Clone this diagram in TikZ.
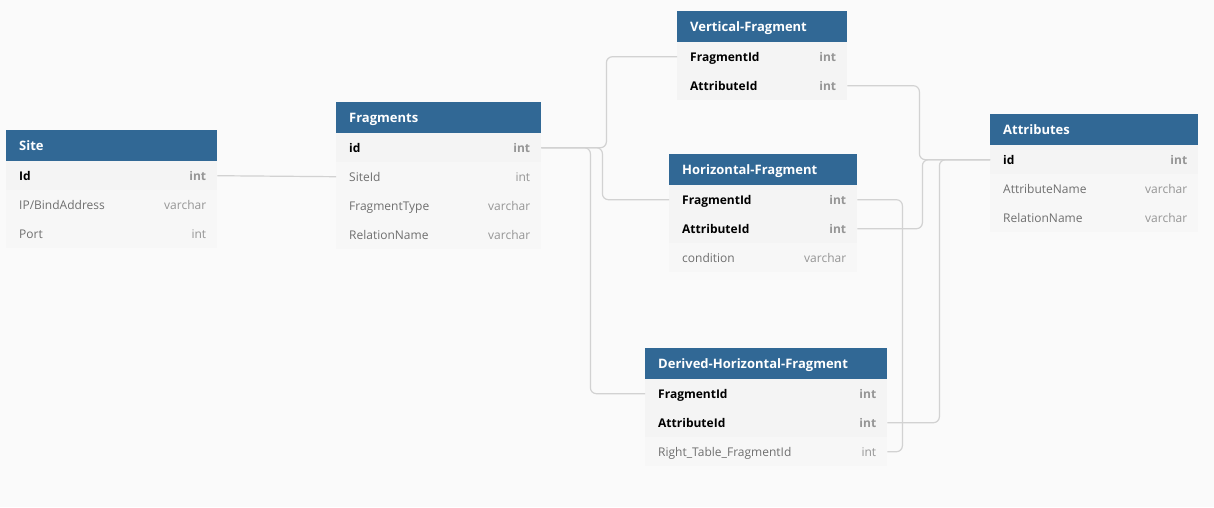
\documentclass[tikz,border=0pt]{standalone}
\usepackage{fontspec}
\setmainfont{Open Sans}
\definecolor{bggray}{HTML}{FAFAFA}
\definecolor{hdblue}{HTML}{316895}
\definecolor{keyfill}{HTML}{F4F4F4}
\definecolor{rowfill}{HTML}{F7F7F7}
\definecolor{namegray}{HTML}{6F6F6F}
\definecolor{typegray}{HTML}{959595}
\definecolor{linegray}{HTML}{D2D2D2}
\begin{document}
\begin{tikzpicture}[x=1pt, y=-1pt,
    tblhead/.style={anchor=north west, fill=hdblue, minimum height=31, inner sep=0},
    keyrow/.style={anchor=north west, fill=keyfill, minimum height=29, inner sep=0},
    plainrow/.style={anchor=north west, fill=rowfill, minimum height=29, inner sep=0},
    hname/.style={anchor=west, xshift=13, yshift=-2, inner sep=0, text height=9.5, text depth=3, text=white, font=\fontsize{13}{15}\selectfont\bfseries},
    kname/.style={anchor=west, xshift=13, yshift=-2, inner sep=0, text height=8.5, text depth=3, text=black, font=\fontsize{12}{14}\selectfont\bfseries},
    pname/.style={anchor=west, xshift=13, yshift=-2, inner sep=0, text height=8.5, text depth=3, text=namegray, font=\fontsize{12}{14}\selectfont},
    ktype/.style={anchor=east, xshift=-11, yshift=-2, inner sep=0, text height=8.5, text depth=3, text=typegray, font=\fontsize{12}{14}\selectfont\bfseries},
    ptype/.style={anchor=east, xshift=-11, yshift=-2, inner sep=0, text height=8.5, text depth=3, text=typegray, font=\fontsize{12}{14}\selectfont},
    conn/.style={draw=linegray, line width=1.2, rounded corners=6}]
    \fill[bggray] (0,0) rectangle (1214,507);
    \useasboundingbox (0,0) rectangle (1214,507);
    % Site
    \node[tblhead, minimum width=211, label={[hname]west:Site}] (site) at (6,130) {};
    \node[keyrow, minimum width=211, label={[kname]west:Id}, label={[ktype]east:int}] (site-id) at (6,161) {};
    \node[plainrow, minimum width=211, label={[pname]west:IP/BindAddress}, label={[ptype]east:varchar}] (site-ip) at (6,190) {};
    \node[plainrow, minimum width=211, label={[pname]west:Port}, label={[ptype]east:int}] (site-port) at (6,219) {};
    % Fragments
    \node[tblhead, minimum width=205, label={[hname]west:Fragments}] (frag) at (336,102) {};
    \node[keyrow, minimum width=205, label={[kname]west:id}, label={[ktype]east:int}] (frag-id) at (336,133) {};
    \node[plainrow, minimum width=205, label={[pname]west:SiteId}, label={[ptype]east:int}] (frag-siteid) at (336,162) {};
    \node[plainrow, minimum width=205, label={[pname]west:FragmentType}, label={[ptype]east:varchar}] (frag-type) at (336,191) {};
    \node[plainrow, minimum width=205, label={[pname]west:RelationName}, label={[ptype]east:varchar}] (frag-rel) at (336,220) {};
    % Vertical-Fragment
    \node[tblhead, minimum width=170, label={[hname]west:Vertical-Fragment}] (vert) at (677,11) {};
    \node[keyrow, minimum width=170, label={[kname]west:FragmentId}, label={[ktype]east:int}] (vert-fid) at (677,42) {};
    \node[keyrow, minimum width=170, label={[kname]west:AttributeId}, label={[ktype]east:int}] (vert-aid) at (677,71) {};
    % Horizontal-Fragment
    \node[tblhead, minimum width=188, label={[hname]west:Horizontal-Fragment}] (horz) at (669,154) {};
    \node[keyrow, minimum width=188, label={[kname]west:FragmentId}, label={[ktype]east:int}] (horz-fid) at (669,185) {};
    \node[keyrow, minimum width=188, label={[kname]west:AttributeId}, label={[ktype]east:int}] (horz-aid) at (669,214) {};
    \node[plainrow, minimum width=188, label={[pname]west:condition}, label={[ptype]east:varchar}] (horz-cond) at (669,243) {};
    % Derived-Horizontal-Fragment
    \node[tblhead, minimum width=242, label={[hname]west:Derived-Horizontal-Fragment}] (derv) at (645,348) {};
    \node[keyrow, minimum width=242, label={[kname]west:FragmentId}, label={[ktype]east:int}] (derv-fid) at (645,379) {};
    \node[keyrow, minimum width=242, label={[kname]west:AttributeId}, label={[ktype]east:int}] (derv-aid) at (645,408) {};
    \node[plainrow, minimum width=242, label={[pname]west:Right\_Table\_FragmentId}, label={[ptype]east:int}] (derv-rtf) at (645,437) {};
    % Attributes
    \node[tblhead, minimum width=208, label={[hname]west:Attributes}] (attr) at (990,114) {};
    \node[keyrow, minimum width=208, label={[kname]west:id}, label={[ktype]east:int}] (attr-id) at (990,145) {};
    \node[plainrow, minimum width=208, label={[pname]west:AttributeName}, label={[ptype]east:varchar}] (attr-name) at (990,174) {};
    \node[plainrow, minimum width=208, label={[pname]west:RelationName}, label={[ptype]east:varchar}] (attr-rel) at (990,203) {};
    % relations
    \draw[conn] (site-id.east) -- (frag-siteid.west);
    \draw[conn] (frag-id.east) -- ++(65,0) |- (vert-fid.west);
    \draw[conn] (frag-id.east) -- ++(61,0) |- (horz-fid.west);
    \draw[conn] (frag-id.east) -- ++(49,0) |- (derv-fid.west);
    \draw[conn] (vert-aid.east) -- ++(72,0) |- (attr-id.west);
    \draw[conn] (horz-aid.east) -- ++(65,0) |- (attr-id.west);
    \draw[conn] (derv-aid.east) -- ++(52,0) |- (attr-id.west);
    \draw[conn] (horz-fid.east) -- ++(45,0) |- (derv-rtf.east);
\end{tikzpicture}
\end{document}
